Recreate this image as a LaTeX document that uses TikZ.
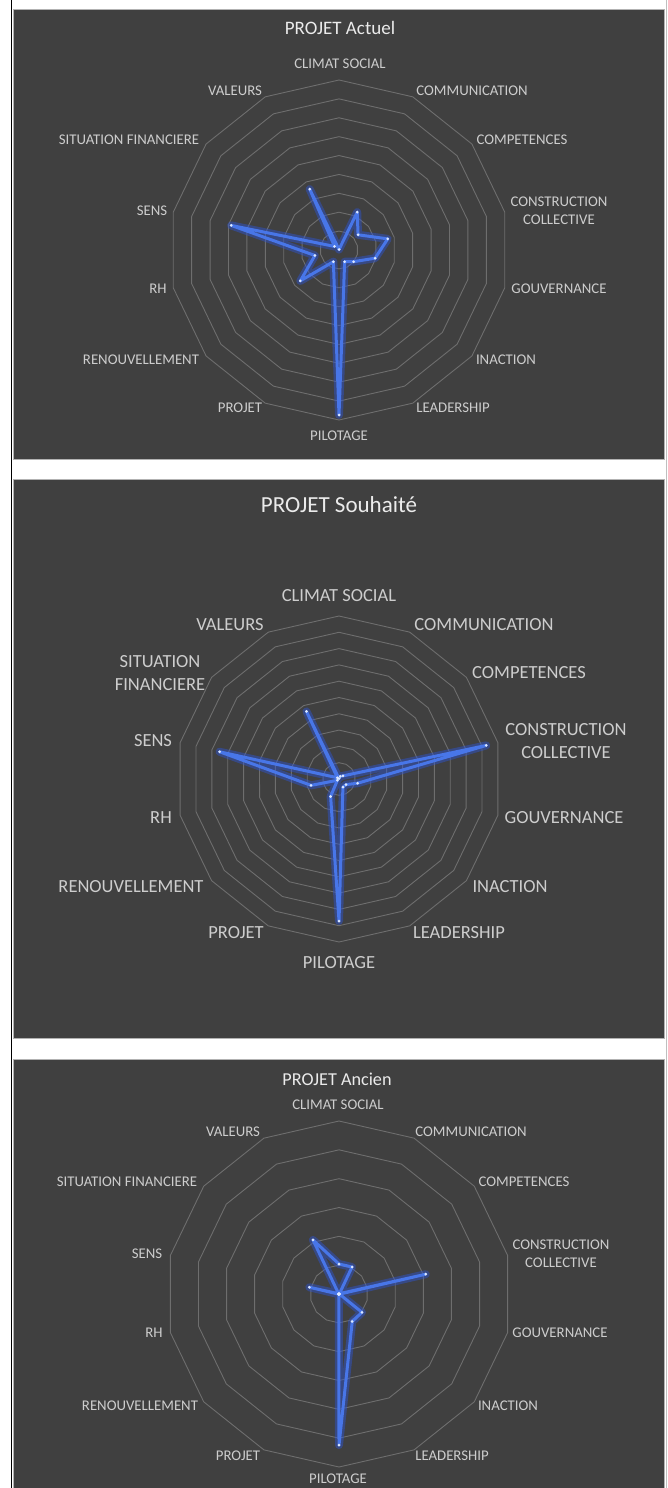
\documentclass[tikz,border=0pt]{standalone}
\usepackage{fontspec}
\setmainfont{Carlito}
\definecolor{bgc}{RGB}{64,64,64}
\definecolor{ringc}{RGB}{110,110,110}
\definecolor{labc}{RGB}{205,205,205}
\definecolor{ttlc}{RGB}{235,235,235}
\definecolor{serc}{RGB}{72,118,232}
\definecolor{haloc}{RGB}{45,85,215}
\definecolor{dotc}{RGB}{220,232,255}
\tikzset{
	panel/.style={fill=bgc, draw=gray!60, line width=1pt},
	ring/.style={draw=ringc, line width=0.9pt},
	lab/.style={text=labc, font=\fontsize{14.8}{18}\selectfont, align=center, inner sep=0pt},
	labb/.style={lab, font=\fontsize{18.5}{23}\selectfont},
	ttl/.style={text=ttlc, font=\fontsize{19}{22}\selectfont, inner sep=0pt},
	halo/.style={draw=haloc, opacity=0.45, line width=8pt, line join=round},
	serie/.style={draw=serc, line width=3pt, line join=round},
	vtx/.style={fill=dotc}
}
\begin{document}
\begin{tikzpicture}[x=1pt, y=1pt]
		\useasboundingbox (0, 0) rectangle (668, -1488);
		\fill[white] (0, 0) rectangle (668, -1488);
		\draw[black, line width=1pt] (11.5, 0) -- (11.5, -1488);
		\draw[gray!50, line width=1pt] (666.5, 0) -- (666.5, -1488);

		\draw[panel] (13, -10) rectangle (664, -459);
		\draw[panel] (13, -479) rectangle (664, -1038);
		\draw[panel] (13, -1059) rectangle (664, -1492);

		\foreach \cy/\n/\rr in {-250/9/170, -779/10/163, -1294/6/173}{
				\foreach \k in {1, ..., \n}{
						\draw[ring, shift={(339, \cy)}] (90:\k*\rr/\n)
						\foreach \a in {1, ..., 13}{ -- (90-\a*25.714:\k*\rr/\n)} -- cycle;
					}
			}

		\begin{scope}[shift={(339, -250)}]
			\foreach \r [count=\k from 0] in {0.5, 42, 24.4, 50, 37, 18.7, 13, 165, 13, 49.5, 24.7, 110.6, 5.7, 67.6}
			\coordinate (a\k) at (90-\k*25.714:\r);
			\draw[halo] (a0) \foreach \k in {1, ..., 13}{ -- (a\k)} -- cycle;
			\draw[serie] (a0) \foreach \k in {1, ..., 13}{ -- (a\k)} -- cycle;
			\foreach \k in {0, ..., 13}
			\fill[vtx] (a\k) circle (1.5);
		\end{scope}

		\begin{scope}[shift={(339, -779)}]
			\foreach \r [count=\k from 0] in {0.5, 3, 5, 151, 19, 9, 9, 142, 19.3, 2, 28.6, 122.5, 2, 75}
			\coordinate (s\k) at (90-\k*25.714:\r);
			\draw[halo] (s0) \foreach \k in {1, ..., 13}{ -- (s\k)} -- cycle;
			\draw[serie] (s0) \foreach \k in {1, ..., 13}{ -- (s\k)} -- cycle;
			\foreach \k in {0, ..., 13}
			\fill[vtx] (s\k) circle (1.5);
		\end{scope}

		\begin{scope}[shift={(339, -1294)}]
			\foreach \r [count=\k from 0] in {30, 30, 0.5, 89, 0.5, 29.4, 30.5, 151, 0.5, 0.5, 0.5, 30.4, 0.5, 60}
			\coordinate (c\k) at (90-\k*25.714:\r);
			\draw[halo] (c0) \foreach \k in {1, ..., 13}{ -- (c\k)} -- cycle;
			\draw[serie] (c0) \foreach \k in {1, ..., 13}{ -- (c\k)} -- cycle;
			\foreach \k in {0, ..., 13}
			\fill[vtx] (c\k) circle (1.5);
		\end{scope}

		\node[ttl] (ta) at (340, -28) {PROJET Actuel};
		\node[lab] (a-cs) at (340, -64) {CLIMAT SOCIAL};
		\node[lab] (a-com) at (472, -91) {COMMUNICATION};
		\node[lab] (a-cmp) at (522, -140) {COMPETENCES};
		\node[lab] (a-cc) at (559, -211) {CONSTRUCTION\\COLLECTIVE};
		\node[lab] (a-gov) at (559, -289) {GOUVERNANCE};
		\node[lab] (a-ina) at (506, -360) {INACTION};
		\node[lab] (a-lea) at (453, -408) {LEADERSHIP};
		\node[lab] (a-pil) at (339, -436) {PILOTAGE};
		\node[lab] (a-pro) at (240, -408) {PROJET};
		\node[lab] (a-ren) at (141, -360) {RENOUVELLEMENT};
		\node[lab] (a-rh) at (158, -289) {RH};
		\node[lab] (a-sens) at (152, -211) {SENS};
		\node[lab] (a-sf) at (129, -140) {SITUATION FINANCIERE};
		\node[lab] (a-val) at (235, -91) {VALEURS};

		\node[ttl, font=\fontsize{23}{26}\selectfont] (ts) at (339, -505) {PROJET Souhaité};
		\node[labb] (s-cs) at (339, -596) {CLIMAT SOCIAL};
		\node[labb] (s-com) at (484, -625) {COMMUNICATION};
		\node[labb] (s-cmp) at (529, -673) {COMPETENCES};
		\node[labb] (s-cc) at (566, -741) {CONSTRUCTION\\COLLECTIVE};
		\node[labb] (s-gov) at (564, -818) {GOUVERNANCE};
		\node[labb] (s-ina) at (510, -887) {INACTION};
		\node[labb] (s-lea) at (459, -933) {LEADERSHIP};
		\node[labb] (s-pil) at (339, -963) {PILOTAGE};
		\node[labb] (s-pro) at (236, -933) {PROJET};
		\node[labb] (s-ren) at (131, -887) {RENOUVELLEMENT};
		\node[labb] (s-rh) at (161, -818) {RH};
		\node[labb] (s-sens) at (153, -741) {SENS};
		\node[labb] (s-sf) at (160, -673) {SITUATION\\FINANCIERE};
		\node[labb] (s-val) at (230, -625) {VALEURS};

		\node[ttl, font=\fontsize{18.2}{21}\selectfont] (tc) at (337, -1079) {PROJET Ancien};
		\node[lab] (c-cs) at (338, -1105) {CLIMAT SOCIAL};
		\node[lab] (c-com) at (471, -1132) {COMMUNICATION};
		\node[lab] (c-cmp) at (524, -1182) {COMPETENCES};
		\node[lab] (c-cc) at (561, -1254) {CONSTRUCTION\\COLLECTIVE};
		\node[lab] (c-gov) at (560, -1333) {GOUVERNANCE};
		\node[lab] (c-ina) at (508, -1406) {INACTION};
		\node[lab] (c-lea) at (452, -1456) {LEADERSHIP};
		\node[lab] (c-pil) at (338, -1479) {PILOTAGE};
		\node[lab] (c-pro) at (238, -1456) {PROJET};
		\node[lab] (c-ren) at (140, -1406) {RENOUVELLEMENT};
		\node[lab] (c-rh) at (154, -1333) {RH};
		\node[lab] (c-sens) at (147, -1254) {SENS};
		\node[lab] (c-sf) at (127, -1182) {SITUATION FINANCIERE};
		\node[lab] (c-val) at (233, -1132) {VALEURS};
	\end{tikzpicture}
\end{document}
